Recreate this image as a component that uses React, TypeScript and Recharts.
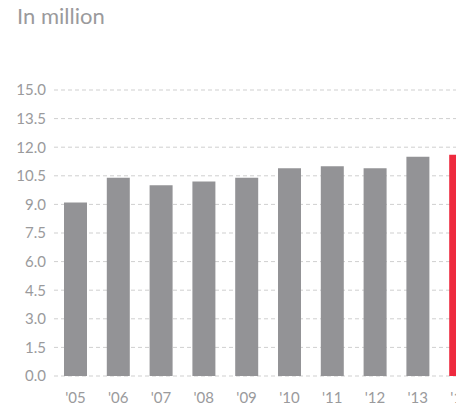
import React from "react";
import { BarChart, Bar, XAxis, YAxis, CartesianGrid, Cell } from "recharts";

const years = ["'05", "'06", "'07", "'08", "'09", "'10", "'11", "'12", "'13", "'14"];
const values = [9.1, 10.4, 10.0, 10.2, 10.4, 10.9, 11.0, 10.9, 11.5, 11.6];
const yTicks = [0, 1.5, 3, 4.5, 6, 7.5, 9, 10.5, 12, 13.5, 15];
const title = "In million";

const data = years.map((y, i) => ({ year: y, value: values[i] }));

const FONT = "Lato, 'DejaVu Sans', sans-serif";
const TEXT = "#9a9a9c";

export default function App() {
  return (
    <div
      style={{
        position: "fixed",
        left: 0,
        top: 0,
        width: 456,
        height: 406,
        overflow: "hidden",
        fontFamily: FONT,
        background: "#fff",
      }}
    >
      <div
        style={{
          position: "absolute",
          left: 17,
          top: 2,
          fontSize: 22,
          lineHeight: "28px",
          color: TEXT,
          fontFamily: FONT,
          whiteSpace: "nowrap",
        }}
      >
        {title}
      </div>
      <div style={{ position: "absolute", left: 8, top: 8 }}>
        <BarChart
          width={474}
          height={398}
          data={data}
          margin={{ top: 82, right: 0, bottom: 0, left: 0 }}
          barCategoryGap={0}
        >
          <CartesianGrid vertical={false} stroke="#cfcfcf" strokeDasharray="4 3" />
          <XAxis
            dataKey="year"
            axisLine={false}
            tickLine={false}
            tickSize={0}
            tickMargin={16}
            height={30}
            interval={0}
            tick={{ fill: TEXT, fontSize: 15, fontFamily: FONT }}
          />
          <YAxis
            domain={[0, 15]}
            ticks={yTicks}
            width={46}
            axisLine={false}
            tickLine={false}
            tickSize={0}
            tickMargin={8}
            interval={0}
            tickFormatter={(v: number) => v.toFixed(1)}
            tick={{ fill: TEXT, fontSize: 15, fontFamily: FONT }}
          />
          <Bar dataKey="value" barSize={23} isAnimationActive={false}>
            {data.map((d, i) => (
              <Cell key={d.year} fill={i === data.length - 1 ? "#ee2a3e" : "#939396"} />
            ))}
          </Bar>
        </BarChart>
      </div>
    </div>
  );
}
